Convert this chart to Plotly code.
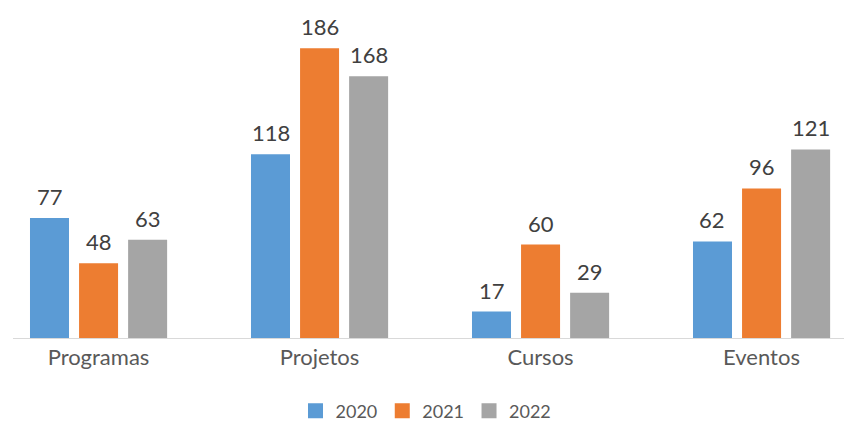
import plotly.graph_objects as go

categorias = ["Programas", "Projetos", "Cursos", "Eventos"]
anos = ["2020", "2021", "2022"]
v2020 = [77, 118, 17, 62]
v2021 = [48, 186, 60, 96]
v2022 = [63, 168, 29, 121]

cores = ["#5B9BD5", "#ED7D31", "#A5A5A5"]
offsets = [-0.310, -0.088, 0.134]
W = 0.1765
FONT = "Lato"

fig = go.Figure()
idx = list(range(len(categorias)))
for ano, vals, cor, off in zip(anos, [v2020, v2021, v2022], cores, offsets):
    fig.add_trace(go.Bar(
        x=idx, y=vals, name=ano, showlegend=False,
        marker=dict(color=cor, line=dict(width=0)),
        width=W, offset=off,
    ))
    # rotulos de dados
    for i, v in zip(idx, vals):
        fig.add_annotation(x=i + off + W / 2, y=v, text=str(v), showarrow=False,
                           yanchor="bottom", yshift=6,
                           font=dict(size=22, color="#404040", family=FONT))
    # entrada de legenda
    fig.add_trace(go.Scatter(x=[None], y=[None], mode="markers", name=ano,
                             marker=dict(symbol="square", size=15, color=cor)))

fig.update_layout(
    width=852, height=423,
    margin=dict(l=5, r=0, t=2, b=93, autoexpand=False),
    paper_bgcolor="white", plot_bgcolor="white",
    barmode="overlay",
    showlegend=True,
    legend=dict(orientation="h", x=0.4876, xanchor="center", y=-0.2226, yanchor="middle",
                font=dict(size=18, color="#595959", family=FONT),
                itemclick=False),
    xaxis=dict(range=[-0.3869, 3.4457], tickvals=idx,
               ticktext=categorias, showgrid=False, zeroline=False,
               showline=True, linecolor="#D9D9D9", linewidth=1,
               ticks="", tickfont=dict(size=22, color="#595959", family=FONT)),
    yaxis=dict(range=[0, 210.5], visible=False, showgrid=False),
)

fig.write_html("out.html")
